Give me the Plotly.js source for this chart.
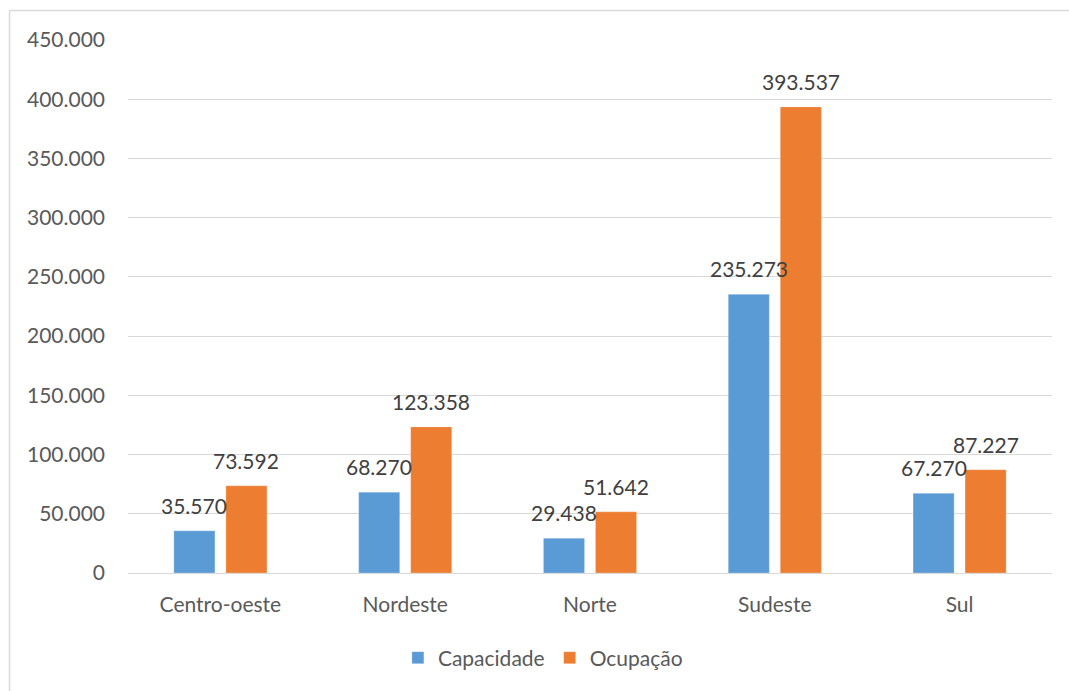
<!DOCTYPE html>
<html>
<head>
<meta charset="utf-8">
<script src="https://cdn.plot.ly/plotly-3.0.1.min.js"></script>
<style>
html,body{margin:0;padding:0;background:#fff;}
#chart{width:1069px;height:691px;}
</style>
</head>
<body>
<div id="chart"></div>
<script>
const categories = ["Centro-oeste", "Nordeste", "Norte", "Sudeste", "Sul"];
const capacidade = [35570, 68270, 29438, 235273, 67270];
const ocupacao = [73592, 123358, 51642, 393537, 87227];
const seriesNames = ["Capacidade", "Ocupação"];
const tickValues = [0, 50000, 100000, 150000, 200000, 250000, 300000, 350000, 400000, 450000];

const FONT = "Lato, 'Open Sans', sans-serif";
const fmt = v => String(v).replace(/\B(?=(\d{3})+(?!\d))/g, ".");

const blue = "#5b9bd5";
const orange = "#ed7d31";

const traces = [
  {type: "bar", name: seriesNames[0], x: categories, y: capacidade,
   marker: {color: blue, line: {color: "rgba(255,255,255,0.5)", width: 0.5}}, hoverinfo: "none"},
  {type: "bar", name: seriesNames[1], x: categories, y: ocupacao,
   marker: {color: orange, line: {color: "rgba(255,255,255,0.5)", width: 0.5}}, hoverinfo: "none"}
];

const annotations = [];
[capacidade, ocupacao].forEach((arr, si) => {
  arr.forEach((v, i) => {
    annotations.push({
      x: categories[i], y: v, xref: "x", yref: "y",
      text: fmt(v), showarrow: false,
      xanchor: "center", yanchor: "bottom",
      xshift: si === 0 ? -26 : 26, yshift: 11,
      font: {family: FONT, size: 21, color: "#404040"}
    });
  });
});

const L = 128, T = 40, W = 924, H = 533;
const px = x => (x - L) / W;
const py = y => (T + H - y) / H;

const layout = {
  width: 1069, height: 691,
  margin: {l: 128, r: 17, t: 40, b: 118, pad: 0},
  paper_bgcolor: "#fff", plot_bgcolor: "#fff",
  separators: ",.",
  barmode: "group", bargap: 0.437, bargroupgap: 0.21,
  font: {family: FONT, size: 21, color: "#595959"},
  showlegend: true,
  legend: {orientation: "h", x: 0.449, xanchor: "center", y: py(658), yanchor: "middle",
           font: {family: FONT, size: 21, color: "#595959"}, itemwidth: 30, traceorder: "normal"},
  xaxis: {type: "category", showgrid: false, zeroline: false, showline: true, linecolor: "#d9d9d9", linewidth: 1,
          ticks: "", ticklabelstandoff: 13, tickfont: {family: FONT, size: 21, color: "#595959"}, fixedrange: true},
  yaxis: {range: [0, 450000], tickvals: tickValues, tickformat: ",d", showgrid: true, gridcolor: "#d9d9d9", gridwidth: 1,
          zeroline: false, showline: false, ticks: "", ticklabelstandoff: 22,
          tickfont: {family: FONT, size: 21, color: "#595959"}, fixedrange: true},
  annotations: annotations,
  shapes: [
    {type: "line", xref: "paper", yref: "paper", x0: px(9.5), x1: px(1075), y0: py(10.5), y1: py(10.5), line: {color: "#d9d9d9", width: 1.5}},
    {type: "line", xref: "paper", yref: "paper", x0: px(9.5), x1: px(9.5), y0: py(10.5), y1: py(700), line: {color: "#d9d9d9", width: 1.5}}
  ]
};

Plotly.newPlot("chart", traces, layout, {staticPlot: true, displayModeBar: false});
</script>
</body>
</html>
